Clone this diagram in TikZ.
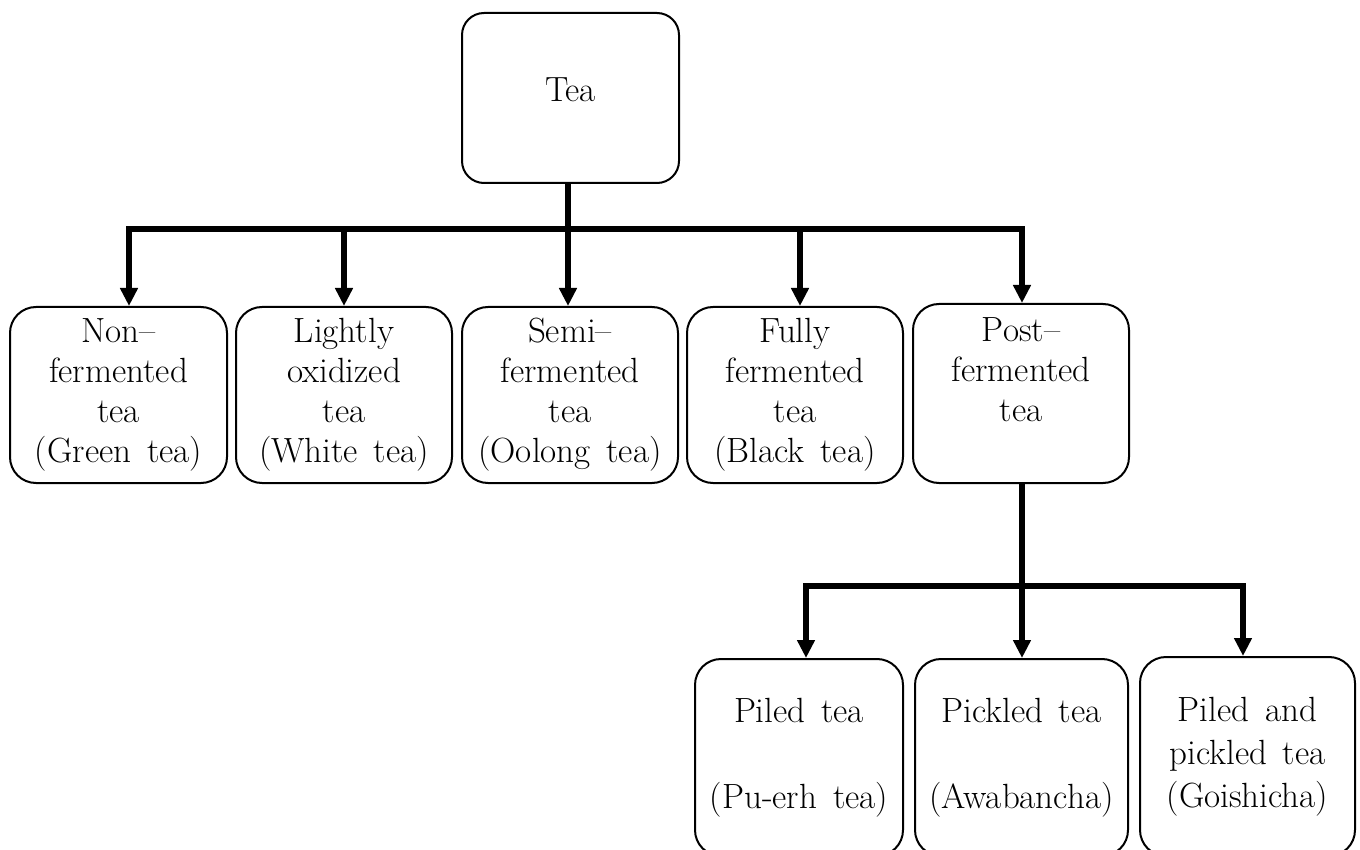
\documentclass[tikz,border=0pt]{standalone}
\usepackage{fontspec}
\usetikzlibrary{arrows.meta}
\newcommand\wideword{\spaceskip=0.45em plus 0.1em\relax}
\begin{document}
\begin{tikzpicture}[x=0.5pt,y=-0.5pt,
  box/.style={draw, line width=1pt, rounded corners=13pt, align=center,
    font=\fontsize{17.5}{20}\selectfont\wideword, inner sep=0pt},
  lowbox/.style={box, font=\fontsize{17.5}{21.5}\selectfont\wideword},
  conn/.style={line width=2.6pt},
  arr/.style={conn, -{Triangle[length=9pt,width=8.5pt]}}]
\useasboundingbox (0,0) rectangle (1360,850);
\clip (0,0) rectangle (1360,850);
% top
\node[box, rounded corners=11pt, minimum width=108.5pt, minimum height=85pt] (tea) at (570.5,98) {Tea\\[-12pt]\mbox{}};
% second row
\node[box, minimum width=108.5pt, minimum height=88pt] (n1) at (118.5,395) {Non–\\fermented\\tea\\(Green tea)};
\node[box, minimum width=108pt, minimum height=88pt] (n2) at (344,395) {Lightly\\oxidized\\tea\\(White tea)};
\node[box, minimum width=108pt, minimum height=88pt] (n3) at (570,395) {Semi–\\fermented\\tea\\(Oolong tea)};
\node[box, minimum width=108pt, minimum height=88pt] (n4) at (795,395) {Fully\\fermented\\tea\\(Black tea)};
\node[box, minimum width=108pt, minimum height=89.5pt] (n5) at (1021,393.5) {Post–\\fermented\\tea\\\phantom{(tea)}};
% third row
\node[lowbox, minimum width=104pt, minimum height=98.5pt] (pa) at (799,757.5) {Piled tea\\\mbox{}\\(Pu-erh tea)};
\node[lowbox, minimum width=106.5pt, minimum height=98.5pt] (pb) at (1021.5,757.5) {Pickled tea\\\mbox{}\\(Awabancha)};
\node[lowbox, minimum width=107.5pt, minimum height=99.5pt] (pc) at (1247.5,756.5) {Piled and\\pickled tea\\(Goishicha)};
% connectors first level
\coordinate (j1) at (129,229);
\coordinate (j2) at (344,229);
\coordinate (j3) at (568,229);
\coordinate (j4) at (800,229);
\coordinate (j5) at (1022,229);
\draw[arr] (j3 |- tea.south) -- (j3 |- n3.north);
\draw[arr] (j3) -| (j1 |- n1.north);
\draw[arr] (j3) -| (j5 |- n5.north);
\draw[arr] (j2) -- (j2 |- n2.north);
\draw[arr] (j4) -- (j4 |- n4.north);
% connectors second level
\coordinate (k1) at (806,586);
\coordinate (k2) at (1022,586);
\coordinate (k3) at (1243,586);
\draw[arr] (k2 |- n5.south) -- (k2 |- pb.north);
\draw[arr] (k2) -| (k1 |- pa.north);
\draw[arr] (k2) -| (k3 |- pc.north);
\end{tikzpicture}
\end{document}
